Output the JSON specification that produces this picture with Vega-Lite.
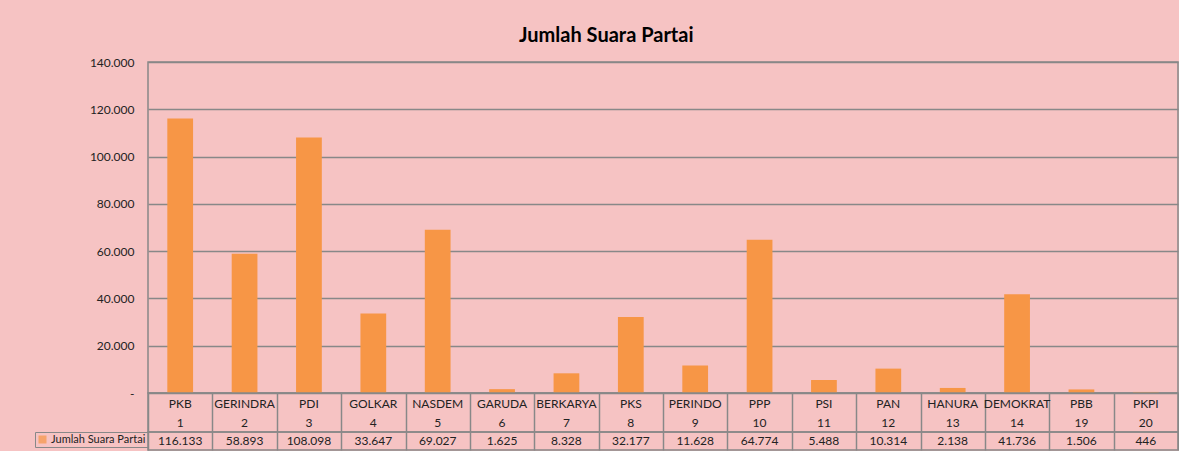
{
  "$schema": "https://vega.github.io/schema/vega-lite/v6.json",
  "background": "#F6C3C3",
  "padding": {"left": 33, "top": 26, "right": 0, "bottom": 0},
  "title": {"text": "Jumlah Suara Partai", "fontSize": 20, "font": "Lato", "fontWeight": "bold", "color": "#000000", "offset": 9, "anchor": "middle"},
  "data": {"values": [
    {"partai": "PKB", "no": 1, "suara": 116133},
    {"partai": "GERINDRA", "no": 2, "suara": 58893},
    {"partai": "PDI", "no": 3, "suara": 108098},
    {"partai": "GOLKAR", "no": 4, "suara": 33647},
    {"partai": "NASDEM", "no": 5, "suara": 69027},
    {"partai": "GARUDA", "no": 6, "suara": 1625},
    {"partai": "BERKARYA", "no": 7, "suara": 8328},
    {"partai": "PKS", "no": 8, "suara": 32177},
    {"partai": "PERINDO", "no": 9, "suara": 11628},
    {"partai": "PPP", "no": 10, "suara": 64774},
    {"partai": "PSI", "no": 11, "suara": 5488},
    {"partai": "PAN", "no": 12, "suara": 10314},
    {"partai": "HANURA", "no": 13, "suara": 2138},
    {"partai": "DEMOKRAT", "no": 14, "suara": 41736},
    {"partai": "PBB", "no": 19, "suara": 1506},
    {"partai": "PKPI", "no": 20, "suara": 446}
  ]},
  "spacing": 0,
  "bounds": "flush",
  "vconcat": [
    {
      "width": 1030,
      "height": 331,
      "mark": {"type": "bar", "color": "#F79646"},
      "encoding": {
        "x": {"field": "partai", "type": "nominal", "sort": null, "axis": null, "scale": {"paddingInner": 0.6, "paddingOuter": 0.3}},
        "y": {"field": "suara", "type": "quantitative", "scale": {"domain": [0, 140000]},
          "axis": {"title": null, "values": [0, 20000, 40000, 60000, 80000, 100000, 120000, 140000], "format": ",d",
            "labelExpr": "datum.value == 0 ? '-' : datum.label", "ticks": false, "domain": false, "labelPadding": 14,
            "gridColor": "#888888", "gridWidth": 1.5, "labelFont": "Lato", "labelFontSize": 12, "labelColor": "#222222"}}
      }
    },
    {
      "width": 1030,
      "height": 39,
      "encoding": {
        "x": {"field": "partai", "type": "nominal", "sort": null, "scale": {"paddingInner": 0, "paddingOuter": 0},
          "axis": {"title": null, "labels": false, "ticks": false, "domain": false, "grid": true, "tickBand": "extent", "gridColor": "#888888", "gridWidth": 1.5}}
      },
      "layer": [
        {"mark": {"type": "text", "dy": -9, "font": "Lato", "fontSize": 12, "color": "#222222"}, "encoding": {"text": {"field": "partai"}}},
        {"mark": {"type": "text", "dy": 10, "font": "Lato", "fontSize": 12, "color": "#222222"}, "encoding": {"text": {"field": "no"}}}
      ]
    },
    {
      "width": 1030,
      "height": 18,
      "encoding": {
        "x": {"field": "partai", "type": "nominal", "sort": null, "scale": {"paddingInner": 0, "paddingOuter": 0},
          "axis": {"title": null, "labels": false, "ticks": false, "domain": false, "grid": true, "tickBand": "extent", "gridColor": "#888888", "gridWidth": 1.5}}
      },
      "layer": [
        {"mark": {"type": "text", "font": "Lato", "fontSize": 12, "color": "#222222"},
          "encoding": {"text": {"field": "suara", "type": "quantitative", "format": ",d"}}},
        {"mark": {"type": "square", "filled": true, "size": 0},
          "encoding": {"color": {"datum": "Jumlah Suara Partai", "type": "nominal", "scale": {"range": ["#F79646"]},
            "legend": {"orient": "left", "title": null, "offset": 0, "padding": 2, "strokeColor": "#888888", "symbolType": "square", "symbolSize": 64, "symbolStrokeWidth": 0,
              "labelFont": "Lato", "labelFontSize": 11, "labelColor": "#222222", "labelOffset": 3}}}}
      ]
    }
  ],
  "resolve": {"scale": {"x": "independent", "color": "independent"}, "legend": {"color": "independent"}},
  "config": {
    "view": {"stroke": "#888888", "strokeWidth": 1.5},
    "locale": {"number": {"decimal": ",", "thousands": ".", "grouping": [3], "currency": ["", ""]}}
  }
}
